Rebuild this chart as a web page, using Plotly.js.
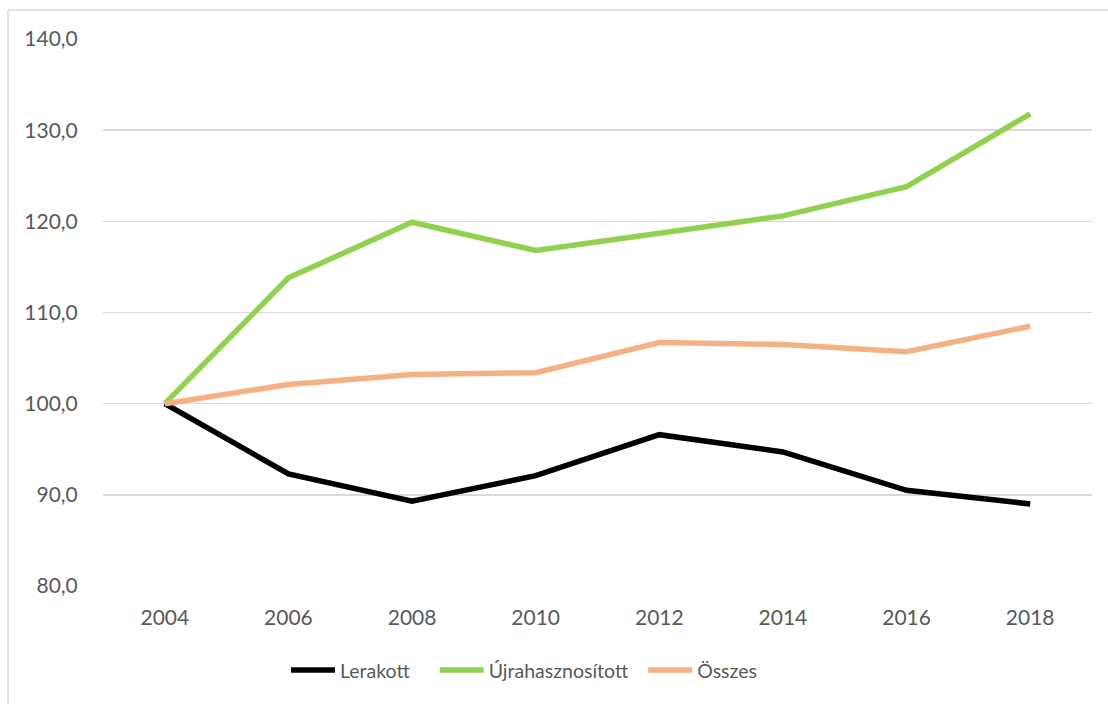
<!DOCTYPE html>
<html>
<head>
<meta charset="utf-8">
<script src="https://cdn.plot.ly/plotly-3.0.1.min.js"></script>
<style>
html,body{margin:0;padding:0;background:#fff;}
#chart{width:1108px;height:704px;}
</style>
</head>
<body>
<div id="chart"></div>
<script>
const years = ['2004','2006','2008','2010','2012','2014','2016','2018'];
const lerakott = [100.0, 92.3, 89.3, 92.1, 96.6, 94.7, 90.5, 89.0];
const ujrahasznositott = [100.0, 113.8, 119.9, 116.8, 118.7, 120.6, 123.8, 131.8];
const osszes = [100.0, 102.1, 103.2, 103.4, 106.7, 106.5, 105.7, 108.5];
const seriesNames = ['Lerakott', 'Újrahasznosított', 'Összes'];
const yTicks = [80, 90, 100, 110, 120, 130, 140];

const colors = ['#000000', '#92d050', '#f4b183'];
const pads = ['\u00a0\u00a0\u00a0\u00a0', '\u00a0\u00a0', ''];
const data = [lerakott, ujrahasznositott, osszes].map((vals, i) => ({
  type: 'scatter', mode: 'lines', x: years, y: vals, name: seriesNames[i] + pads[i],
  line: {color: colors[i], width: 5.5}, hoverinfo: 'x+y+name'
}));

const font = {family: 'Lato, Noto Sans, sans-serif', size: 21, color: '#595959'};
const legendFont = {family: 'Lato, Noto Sans, sans-serif', size: 19.5, color: '#595959'};
const layout = {
  width: 1108, height: 704,
  margin: {l: 103, r: 16, t: 39, b: 118},
  paper_bgcolor: '#ffffff', plot_bgcolor: '#ffffff',
  separators: ', ',
  font: font,
  showlegend: true,
  legend: {orientation: 'h', x: 0.185, xanchor: 'left', y: -0.154, yanchor: 'middle',
           font: legendFont, itemwidth: 44, tracegroupgap: 0, bgcolor: 'rgba(0,0,0,0)'},
  xaxis: {type: 'category', range: [-0.5, 7.5], showgrid: false, zeroline: false,
          showline: false, ticks: 'outside', ticklen: 13, tickcolor: 'rgba(0,0,0,0)',
          tickfont: font, fixedrange: true},
  yaxis: {range: [80, 140], tickvals: yTicks, tickformat: '.1f', showgrid: true,
          gridcolor: '#d9d9d9', gridwidth: 1.5, zeroline: false, showline: false,
          ticks: 'outside', ticklen: 20, tickcolor: 'rgba(0,0,0,0)', tickfont: font, fixedrange: true},
  shapes: [
    {type: 'line', xref: 'paper', yref: 'paper', x0: -0.096, x1: -0.096, y0: 1.053, y1: -0.25,
     line: {color: '#d9d9d9', width: 1.5}},
    {type: 'line', xref: 'paper', yref: 'paper', x0: -0.096, x1: 1.1, y0: 1.053, y1: 1.053,
     line: {color: '#d9d9d9', width: 1.5}}
  ]
};
Plotly.newPlot('chart', data, layout, {displayModeBar: false, staticPlot: true});
</script>
</body>
</html>
